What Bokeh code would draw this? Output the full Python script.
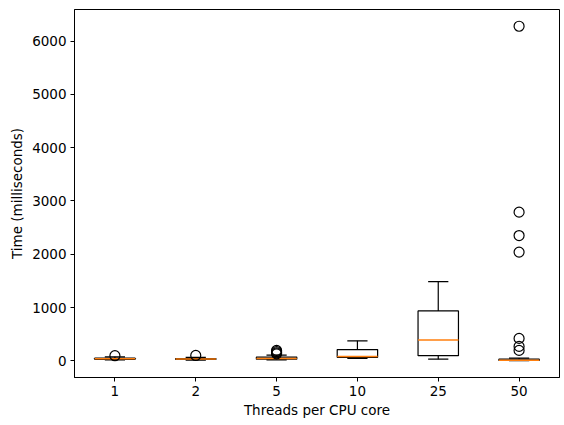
from bokeh.plotting import figure
from bokeh.models import Range1d, ColumnDataSource, FixedTicker
from bokeh.embed import file_html
from bokeh.resources import INLINE

categories = ["1", "2", "5", "10", "25", "50"]
q1 = [28, 25, 30, 65, 95, 5]
median = [38, 32, 45, 80, 390, 12]
q3 = [48, 42, 70, 210, 935, 30]
whisker_lo = [15, 12, 15, 45, 30, 0]
whisker_hi = [75, 62, 105, 375, 1485, 50]
outlier_cat = ["1", "2", "5", "5", "5", "5", "50", "50", "50", "50", "50", "50", "50"]
outlier_val = [95, 100, 130, 150, 170, 195, 6280, 2790, 2350, 2040, 420, 270, 195]
y_ticks = [0, 1000, 2000, 3000, 4000, 5000, 6000]

FONT = "DejaVu Sans"
BOX_W = 0.5
CAP_W = 0.25

pos = list(range(1, len(categories) + 1))
pos_of = dict(zip(categories, pos))

p = figure(width=561, height=421, output_backend="svg", toolbar_location=None,
           x_range=Range1d(0.5, len(categories) + 0.5), y_range=Range1d(-314, 6594),
           min_border_left=74, min_border_right=2, min_border_top=9, min_border_bottom=44)

src = ColumnDataSource(dict(
    x=pos, q1=q1, med=median, q3=q3, lo=whisker_lo, hi=whisker_hi,
    bl=[x - BOX_W / 2 for x in pos], br=[x + BOX_W / 2 for x in pos],
    cl=[x - CAP_W / 2 for x in pos], cr=[x + CAP_W / 2 for x in pos],
))

LW = 1.2
# whiskers
p.segment(x0="x", y0="q3", x1="x", y1="hi", source=src, line_color="black", line_width=LW)
p.segment(x0="x", y0="lo", x1="x", y1="q1", source=src, line_color="black", line_width=LW)
# caps
p.segment(x0="cl", y0="hi", x1="cr", y1="hi", source=src, line_color="black", line_width=LW)
p.segment(x0="cl", y0="lo", x1="cr", y1="lo", source=src, line_color="black", line_width=LW)
# boxes
p.quad(left="bl", right="br", bottom="q1", top="q3", source=src, fill_alpha=0,
       line_color="black", line_width=LW)
# medians
p.segment(x0="bl", y0="med", x1="br", y1="med", source=src, line_color="#ff7f0e", line_width=1.5)
# outliers
p.scatter(x=[pos_of[c] for c in outlier_cat], y=outlier_val, marker="circle", size=10,
          fill_alpha=0, line_color="black", line_width=LW)

p.xgrid.visible = False
p.ygrid.visible = False
p.outline_line_color = "black"
p.outline_line_width = 1
p.outline_line_alpha = 1

p.xaxis.ticker = FixedTicker(ticks=pos)
p.xaxis.major_label_overrides = {x: c for x, c in zip(pos, categories)}
p.yaxis.ticker = FixedTicker(ticks=y_ticks)
p.xaxis.axis_label = "Threads per CPU core"
p.yaxis.axis_label = "Time (milliseconds)"
for ax in (p.xaxis, p.yaxis):
    ax.axis_label_text_font = FONT
    ax.axis_label_text_font_size = "13.5px"
    ax.axis_label_text_font_style = "normal"
    ax.axis_label_text_color = "black"
    ax.major_label_text_font = FONT
    ax.major_label_text_font_size = "13.5px"
    ax.major_label_text_color = "black"
    ax.major_tick_in = 0
    ax.major_tick_out = 4
    ax.minor_tick_out = 0
    ax.minor_tick_in = 0
    ax.axis_line_color = "black"
    ax.major_tick_line_color = "black"
    ax.major_label_standoff = 4
    ax.axis_label_standoff = 3
p.yaxis.axis_label_standoff = 4
p.yaxis.major_label_orientation = "horizontal"

open("out.html", "w").write(file_html(p, INLINE))
